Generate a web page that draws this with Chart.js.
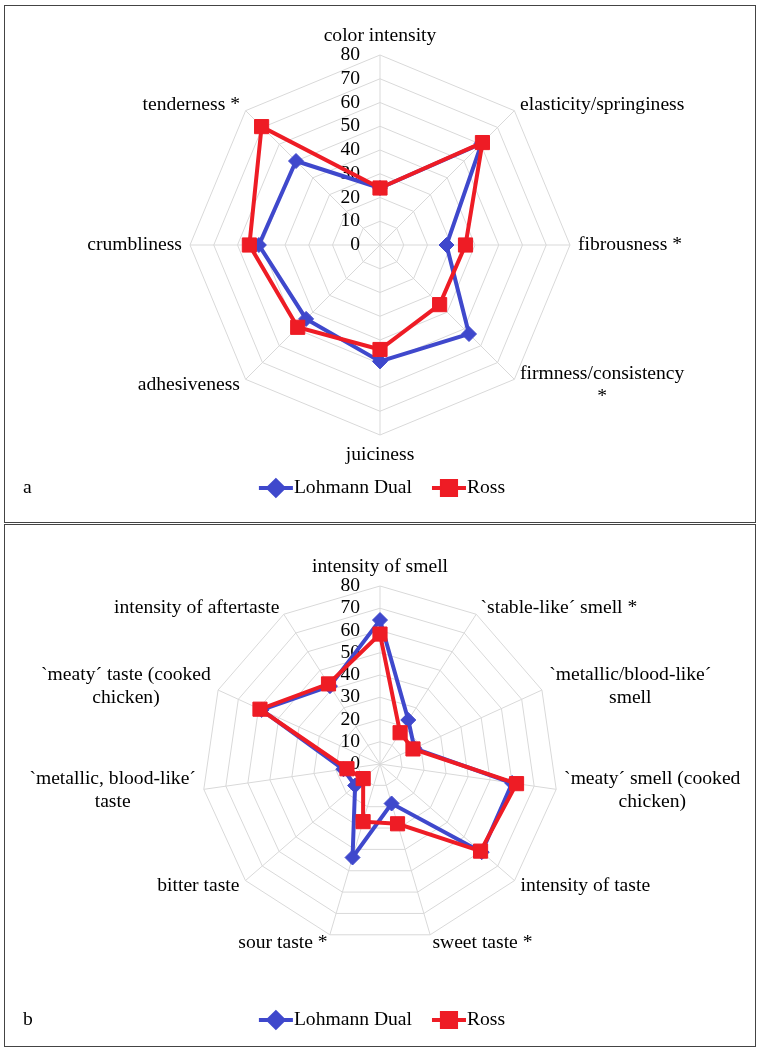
<!DOCTYPE html>
<html>
<head>
<meta charset="utf-8">
<script src="https://cdn.jsdelivr.net/npm/chart.js@4.4.1/dist/chart.umd.min.js"></script>
<style>
  html, body { margin: 0; padding: 0; background: #fff; }
  #wrap { position: relative; width: 760px; height: 1051px; overflow: hidden; }
  canvas { position: absolute; left: 0; }
  .panel { position: absolute; border: 1.5px solid #444; box-sizing: border-box; pointer-events: none; }
</style>
</head>
<body>
<div id="wrap">
  <canvas id="chartA" width="760" height="523" style="top:0"></canvas>
  <canvas id="chartB" width="760" height="528" style="top:523px"></canvas>
  <div class="panel" style="left:4px; top:5px; width:752px; height:518px"></div>
  <div class="panel" style="left:4px; top:524px; width:752px; height:523px"></div>
</div>
<script>
// panel a - texture
const textureLabels = ['color intensity', 'elasticity/springiness', 'fibrousness *', ['firmness/consistency', '*'],
    'juiciness', 'adhesiveness', 'crumbliness', 'tenderness *'];
const lohmannTexture = [24, 60.5, 28, 53, 49, 44, 51, 50];
const rossTexture = [24, 61, 36, 35.5, 44, 49, 55, 70.5];

// panel b - smell and taste
const flavourLabels = ['intensity of smell', '`stable-like\u00b4 smell *', ['`metallic/blood-like\u00b4', 'smell'],
    ['`meaty\u00b4 smell (cooked', 'chicken)'], 'intensity of taste', 'sweet taste *', 'sour taste *', 'bitter taste',
    ['`metallic, blood-like\u00b4', 'taste'], ['`meaty\u00b4 taste (cooked', 'chicken)'], 'intensity of aftertaste'];
const lohmannFlavour = [64.7, 23.5, 17, 60, 60.5, 18.5, 43.8, 14.8, 16.6, 58.5, 41.6];
const rossFlavour = [58.4, 16.7, 16.3, 62, 59.8, 28, 27, 10, 15, 59.3, 42.8];

const seriesNames = ['Lohmann Dual', 'Ross'];

const BLUE = '#3F48CC';
const RED = '#EE1C25';
const FONT_SIZE = 19.6;
const FONT = FONT_SIZE + 'px "Liberation Serif", "Times New Roman", serif';
const LINE_H = 22.8;

// ticks left of the axis, labels around the web, legend and panel letter
const radarText = {
    id: 'radarText',
    beforeDatasetsDraw(chart) {
        const scale = chart.scales.r;
        const ctx = chart.ctx;
        ctx.save();
        ctx.font = FONT;
        ctx.fillStyle = '#000';
        ctx.textAlign = 'right';
        ctx.textBaseline = 'middle';
        scale.ticks.forEach((t) => {
            const d = scale.getDistanceFromCenterForValue(t.value);
            ctx.fillText(String(t.value), scale.xCenter - 20, scale.yCenter - d);
        });

        chart.data.labels.forEach((lab, i) => {
            const lines = Array.isArray(lab) ? lab : [lab];
            const p = scale.getPointPosition(i, scale.drawingArea + 8);
            const a = scale.getIndexAngle(i);
            const dx = Math.sin(a);
            const dy = -Math.cos(a);
            const h = lines.length * LINE_H;
            const w = Math.max(...lines.map((l) => ctx.measureText(l).width));
            let cx, cy;
            if (Math.abs(dx) < 0.05) {
                cx = p.x;
                cy = p.y + (dy < 0 ? -h / 2 : h / 2);
            } else {
                cx = dx > 0 ? p.x + w / 2 : p.x - w / 2;
                cy = p.y;
            }
            ctx.textAlign = 'center';
            lines.forEach((l, k) => {
                ctx.fillText(l, cx, cy - h / 2 + LINE_H * (k + 0.5));
            });
        });
        ctx.restore();
    },
    afterDraw(chart, args, opts) {
        const ctx = chart.ctx;
        ctx.save();
        ctx.font = FONT;
        ctx.fillStyle = '#000';
        ctx.textBaseline = 'middle';
        ctx.textAlign = 'left';
        ctx.fillText(opts.letter, 23, opts.legendY);

        const lineLen = 34;
        const items = chart.data.datasets.map((ds) => ({
            ds, tw: ctx.measureText(ds.label).width
        }));
        const total = items.reduce((s, it) => s + lineLen + 1 + it.tw, 0) + 20 * (items.length - 1);
        let x = chart.width / 2 + 2 - total / 2;
        const y = opts.legendY;
        items.forEach((it) => {
            const ds = it.ds;
            ctx.strokeStyle = ds.borderColor;
            ctx.lineWidth = 4;
            ctx.beginPath();
            ctx.moveTo(x, y);
            ctx.lineTo(x + lineLen, y);
            ctx.stroke();
            Chart.helpers.drawPoint(ctx, {
                pointStyle: ds.pointStyle,
                radius: ds.pointRadius,
                borderWidth: 1
            }, x + lineLen / 2, y);
            ctx.fillStyle = ds.borderColor;
            ctx.fill();
            ctx.fillStyle = '#000';
            ctx.fillText(ds.label, x + lineLen + 1, y);
            x += lineLen + 1 + it.tw + 20;
        });
        ctx.restore();
    }
};

function seriesDataset(name, values, color, style, radius, order) {
    return {
        label: name,
        data: values,
        borderColor: color,
        backgroundColor: color,
        pointBackgroundColor: color,
        pointBorderColor: color,
        borderWidth: 4,
        pointStyle: style,
        pointRadius: radius,
        pointBorderWidth: 1,
        fill: false,
        tension: 0,
        order: order
    };
}

function makeRadar(id, labels, blueVals, redVals, padding, letter, legendY) {
    const ctx = document.getElementById(id).getContext('2d');
    return new Chart(ctx, {
        type: 'radar',
        data: {
            labels: labels,
            datasets: [
                seriesDataset(seriesNames[0], blueVals, BLUE, 'rectRot', 7.5, 2),
                seriesDataset(seriesNames[1], redVals, RED, 'rect', 10, 1)
            ]
        },
        options: {
            responsive: false,
            animation: false,
            events: [],
            layout: { padding: padding },
            plugins: {
                legend: { display: false },
                tooltip: { enabled: false },
                radarText: { letter: letter, legendY: legendY }
            },
            scales: {
                r: {
                    min: 0,
                    max: 80,
                    ticks: { display: false, stepSize: 10 },
                    pointLabels: { display: false },
                    grid: { color: '#d9d9d9', lineWidth: 1 },
                    angleLines: { color: '#d9d9d9', lineWidth: 1 }
                }
            }
        },
        plugins: [radarText]
    });
}

makeRadar('chartA', textureLabels, lohmannTexture, rossTexture,
    { left: 190, right: 190, top: 55, bottom: 88 }, 'a', 488);
makeRadar('chartB', flavourLabels, lohmannFlavour, rossFlavour,
    { left: 202, right: 202, top: 63, bottom: 109 }, 'b', 497);
</script>
</body>
</html>
